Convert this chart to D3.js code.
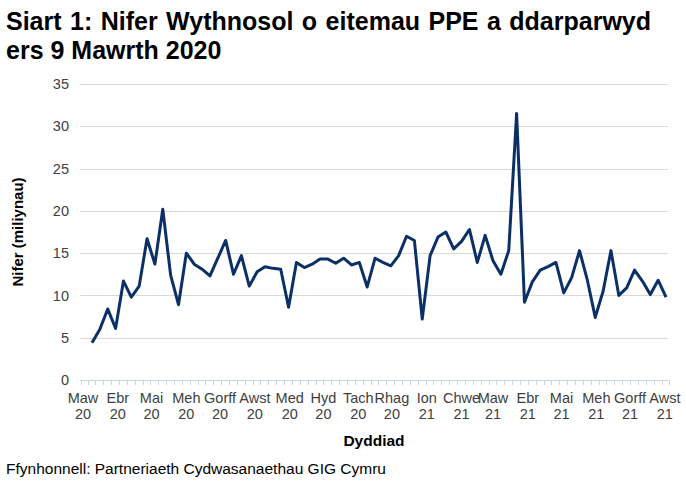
<!DOCTYPE html>
<html>
<head>
<meta charset="utf-8">
<script src="https://cdn.jsdelivr.net/npm/d3@7"></script>
<style>
  body { margin: 0; background: #fff; }
  text { font-family: "Liberation Sans", Arial, sans-serif; }
</style>
</head>
<body>
<svg width="686" height="488"></svg>
<script>
// weekly PPE items issued (millions), week commencing 9 Mar 2020
const firstWeek = new Date(2020, 2, 9);
const values = [
  4.4, 6.0, 8.4, 6.1, 11.7, 9.8, 11.1, 16.7, 13.7, 20.2,
  12.4, 8.9, 15.0, 13.7, 13.1, 12.3, 14.4, 16.5, 12.5, 14.7,
  11.1, 12.8, 13.4, 13.2, 13.1, 8.6, 13.9, 13.3, 13.7, 14.3,
  14.3, 13.8, 14.4, 13.6, 13.9, 11.0, 14.4, 13.9, 13.5, 14.7,
  17.0, 16.5, 7.2, 14.7, 16.9, 17.5, 15.5, 16.4, 17.8, 13.9,
  17.1, 14.1, 12.5, 15.3, 31.5, 9.2, 11.6, 13.0, 13.4, 13.9,
  10.3, 12.1, 15.3, 11.8, 7.4, 10.5, 15.3, 10.0, 10.9, 13.0,
  11.7, 10.1, 11.8, 9.8
];
const dates = values.map((v, i) => d3.timeDay.offset(firstWeek, i * 7));
const data = dates.map((d, i) => ({ date: d, value: values[i] }));

const monthNames = ['Maw', 'Ebr', 'Mai', 'Meh', 'Gorff', 'Awst', 'Med', 'Hyd', 'Tach', 'Rhag',
                    'Ion', 'Chwe', 'Maw', 'Ebr', 'Mai', 'Meh', 'Gorff', 'Awst'];
const monthYears = ['20', '20', '20', '20', '20', '20', '20', '20', '20', '20',
                    '21', '21', '21', '21', '21', '21', '21', '21'];
const monthStarts = d3.timeMonth.range(new Date(2020, 2, 1), new Date(2021, 7, 2));
const yTicks = [0, 5, 10, 15, 20, 25, 30, 35];

const svg = d3.select('svg');
const plotLeft = 80, plotRight = 668, plotTop = 84, plotBottom = 380;

const x = d3.scaleTime()
    .domain([dates[0], dates[dates.length - 1]])
    .range([92, 666]);

const y = d3.scaleLinear()
    .domain([0, 35])
    .range([plotBottom, plotTop]);

// title
const title = svg.append('text')
    .attr('x', 6)
    .attr('y', 30)
    .attr('font-size', 25)
    .attr('font-weight', 'bold')
    .attr('fill', '#000');
title.append('tspan').attr('x', 6).attr('word-spacing', 1.5)
    .text('Siart 1: Nifer Wythnosol o eitemau PPE a ddarparwyd');
title.append('tspan').attr('x', 6).attr('dy', 29).text('ers 9 Mawrth 2020');

// gridlines
svg.append('g')
    .selectAll('line')
    .data(yTicks.filter(d => d > 0))
    .join('line')
    .attr('x1', plotLeft)
    .attr('x2', plotRight)
    .attr('y1', d => Math.round(y(d)) + 0.5)
    .attr('y2', d => Math.round(y(d)) + 0.5)
    .attr('stroke', '#d9d9d9')
    .attr('stroke-width', 1);

// y axis labels
svg.append('g')
    .selectAll('text')
    .data(yTicks)
    .join('text')
    .attr('x', 69)
    .attr('y', d => y(d))
    .attr('dy', '0.35em')
    .attr('text-anchor', 'end')
    .attr('font-size', 14.5)
    .attr('fill', '#404040')
    .text(d => d);

// x axis line and weekly ticks
const axisG = svg.append('g');
axisG.append('line')
    .attr('x1', plotLeft)
    .attr('x2', plotRight)
    .attr('y1', plotBottom + 0.5)
    .attr('y2', plotBottom + 0.5)
    .attr('stroke', '#c9d6ea');
const tickDates = [d3.timeDay.offset(dates[0], -10)]
    .concat(dates.map(d => d3.timeDay.offset(d, -3.5)))
    .concat([d3.timeDay.offset(dates[dates.length - 1], 3.5)]);
axisG.selectAll('line.tick')
    .data(tickDates)
    .join('line')
    .attr('class', 'tick')
    .attr('x1', d => Math.round(x(d)) + 0.5)
    .attr('x2', d => Math.round(x(d)) + 0.5)
    .attr('y1', plotBottom)
    .attr('y2', plotBottom + 5)
    .attr('stroke', '#c9d6ea');

// month labels
const lab = svg.append('g')
    .selectAll('text')
    .data(monthStarts)
    .join('text')
    .attr('text-anchor', 'middle')
    .attr('font-size', 14.5)
    .attr('fill', '#404040');
lab.append('tspan')
    .attr('x', d => x(d))
    .attr('y', 403)
    .text((d, i) => monthNames[i]);
lab.append('tspan')
    .attr('x', d => x(d))
    .attr('y', 419)
    .text((d, i) => monthYears[i]);

// axis titles
svg.append('text')
    .attr('x', 374)
    .attr('y', 446)
    .attr('text-anchor', 'middle')
    .attr('font-size', 15.5)
    .attr('font-weight', 'bold')
    .attr('fill', '#000')
    .text('Dyddiad');

svg.append('text')
    .attr('transform', `translate(23,${(plotTop + plotBottom) / 2}) rotate(-90)`)
    .attr('text-anchor', 'middle')
    .attr('font-size', 15)
    .attr('font-weight', 'bold')
    .attr('fill', '#000')
    .text('Nifer (miliynau)');

// line
const line = d3.line()
    .x(d => x(d.date))
    .y(d => y(d.value));

svg.append('path')
    .datum(data)
    .attr('d', line)
    .attr('fill', 'none')
    .attr('stroke', '#0b3066')
    .attr('stroke-width', 3)
    .attr('stroke-linejoin', 'round');

// source
svg.append('text')
    .attr('x', 6)
    .attr('y', 474)
    .attr('font-size', 15.5)
    .attr('fill', '#000')
    .text('Ffynhonnell: Partneriaeth Cydwasanaethau GIG Cymru');
</script>
</body>
</html>
